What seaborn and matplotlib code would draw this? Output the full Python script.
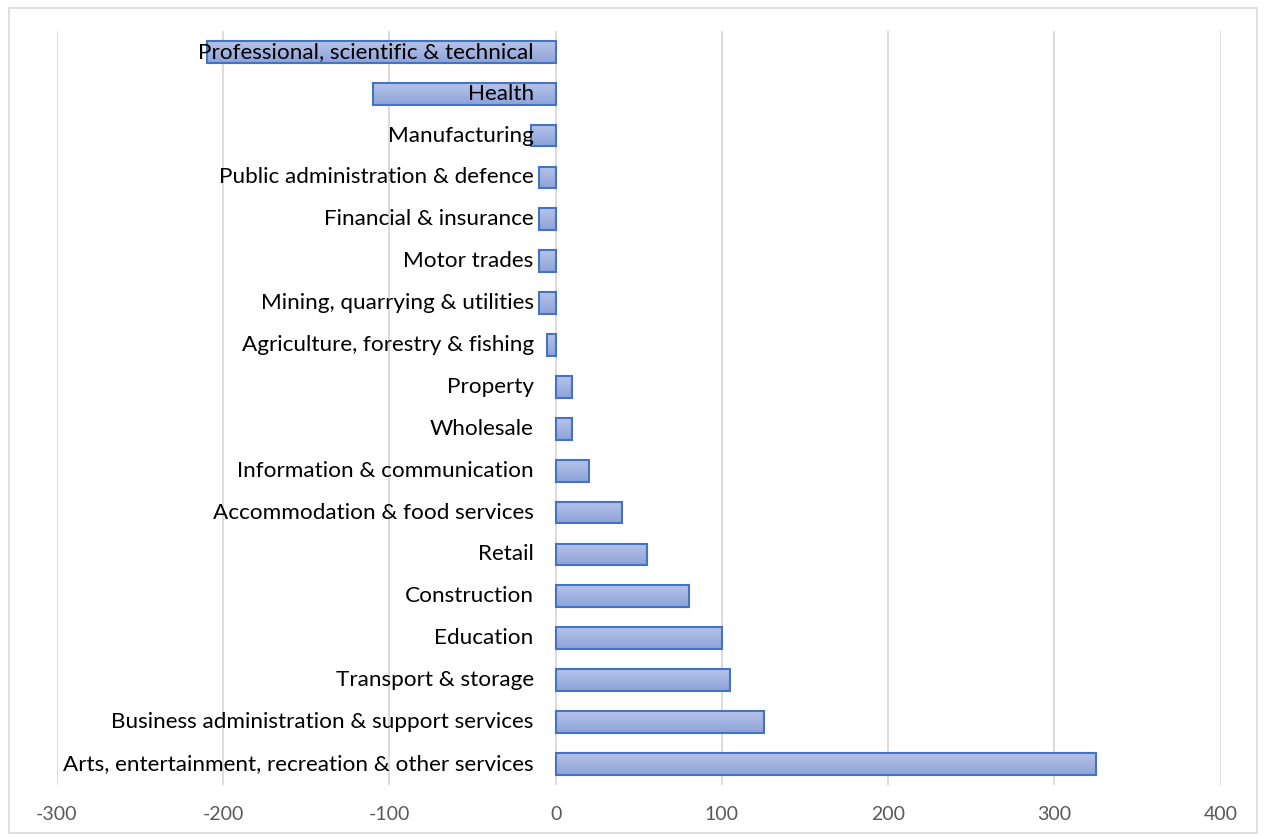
import numpy as np
import pandas as pd
import seaborn as sns
import matplotlib.pyplot as plt
from matplotlib.patches import Rectangle
from matplotlib.colors import LinearSegmentedColormap

sectors = [
    "Professional, scientific & technical",
    "Health",
    "Manufacturing",
    "Public administration & defence",
    "Financial & insurance",
    "Motor trades",
    "Mining, quarrying & utilities",
    "Agriculture, forestry & fishing",
    "Property",
    "Wholesale",
    "Information & communication",
    "Accommodation & food services",
    "Retail",
    "Construction",
    "Education",
    "Transport & storage",
    "Business administration & support services",
    "Arts, entertainment, recreation & other services",
]
change = [-210, -110, -15, -10, -10, -10, -10, -5, 10, 10, 20, 40, 55, 80, 100, 105, 125, 325]
x_ticks = [-300, -200, -100, 0, 100, 200, 300, 400]

df = pd.DataFrame({"sector": sectors, "change": change})

sns.set_theme(style="white")
plt.rcParams["font.family"] = ["Lato", "DejaVu Sans"]

fig = plt.figure(figsize=(12.65, 8.34), dpi=100)
ax = fig.add_axes([0.045, 0.059, 0.92, 0.904])

sns.barplot(data=df, x="change", y="sector", order=sectors, orient="h",
            color="#a3b4e0", edgecolor="#4472c4", linewidth=1.5,
            width=0.52, ax=ax, zorder=2)

# gradient fill, lighter on top, darker at the bottom
grad = LinearSegmentedColormap.from_list("bar", ["#b6c3e7", "#8da3da"])
for p in ax.patches:
    x0, y0 = p.get_x(), p.get_y()
    w, h = p.get_width(), p.get_height()
    img = ax.imshow(np.linspace(0, 1, 50).reshape(-1, 1), cmap=grad,
                    extent=[x0, x0 + w, y0 + h, y0], aspect="auto",
                    zorder=2.1, origin="upper")
    img.set_clip_path(p)
    p.set_facecolor("none")
    p.set_zorder(2.2)

for i, name in enumerate(sectors):
    ax.annotate(name, xy=(0, i), xytext=(-22, 0), textcoords="offset pixels",
                ha="right", va="center", fontsize=16.2, color="black", zorder=5)

ax.set_xlim(-300, 400)
ax.set_ylim(len(sectors) - 0.5, -0.5)
ax.set_xticks(x_ticks)
ax.set_xticklabels([str(t) for t in x_ticks], fontsize=14, color="#595959")
ax.tick_params(axis="x", length=0, pad=15)
ax.set_yticks([])
ax.set_xlabel("")
ax.set_ylabel("")
ax.grid(axis="x", color="#d9d9d9", linewidth=1.3, zorder=0)
ax.set_axisbelow(True)
for s in ax.spines.values():
    s.set_visible(False)

fig.patches.append(Rectangle((0.007, 0.001), 0.987, 0.989, transform=fig.transFigure,
                             fill=False, edgecolor="#d9d9d9", linewidth=1.2))

fig.savefig("out.png", dpi=100)
